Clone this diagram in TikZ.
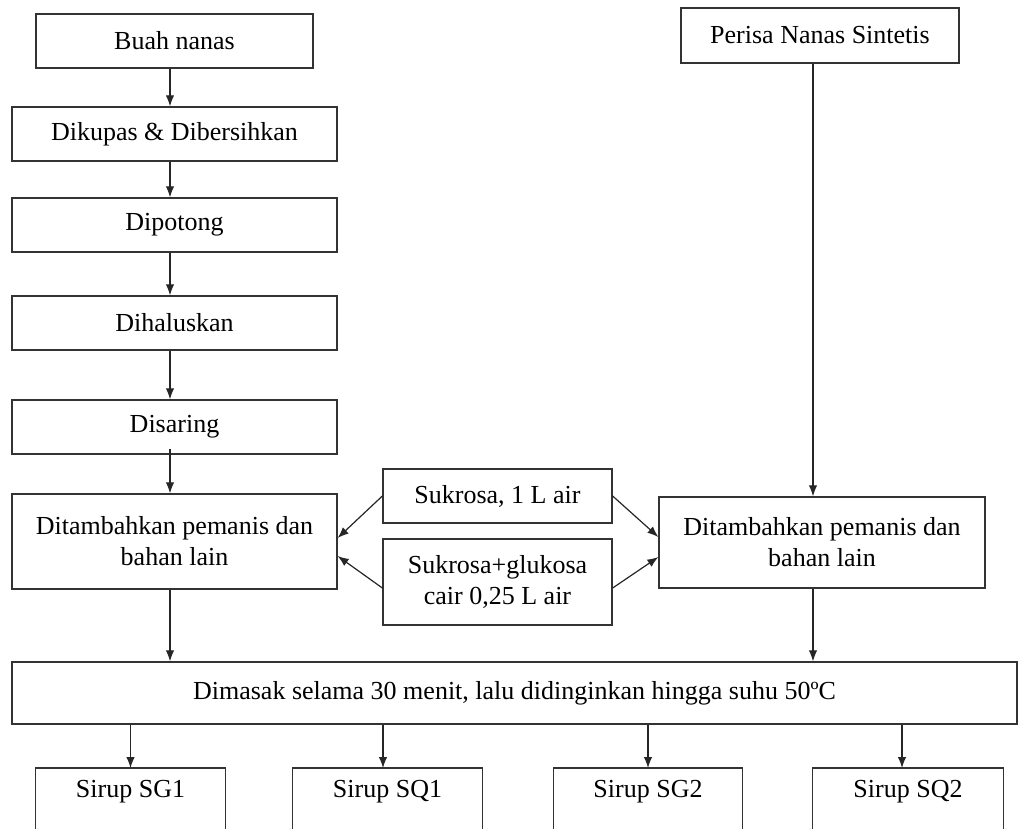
\documentclass[tikz,border=0pt]{standalone}
\usepackage{fontspec}
\setmainfont{Liberation Serif}
\usetikzlibrary{arrows.meta,calc}
\begin{document}
\begin{tikzpicture}[x=1pt,y=-1pt,
  every node/.style={font=\fontsize{26}{31}\selectfont},
  box/.style={draw=black!80, line width=1.3pt, inner sep=0pt, align=center},
  openbox/.style={inner sep=0pt, align=center},
  arr/.style={draw=black!85, line width=1.2pt, -{Latex[length=11pt,width=8.5pt]}},
  side/.style={draw=black!80, line width=1.3pt}]
\useasboundingbox[fill=white] (0,0) rectangle (1019,828);
% left column
\node[box, minimum width=277, minimum height=54] (buah) at (174.5,41) {Buah nanas};
\node[box, minimum width=325, minimum height=54] (dikupas) at (174.5,134) {Dikupas \& Dibersihkan};
\node[box, minimum width=325, minimum height=54] (dipotong) at (174.5,225) {Dipotong};
\node[box, minimum width=325, minimum height=54] (dihalus) at (174.5,323) {Dihaluskan};
\node[box, minimum width=325, minimum height=54] (disaring) at (174.5,427) {Disaring};
\node[box, minimum width=325, minimum height=95] (tambahL) at (174.5,541.5) {Ditambahkan pemanis dan\\bahan lain};
% right column
\node[box, minimum width=278, minimum height=55] (perisa) at (820,35.5) {Perisa Nanas Sintetis};
\node[box, minimum width=326, minimum height=91] (tambahR) at (822,542.5) {Ditambahkan pemanis dan\\bahan lain};
% middle
\node[box, minimum width=229, minimum height=54] (suk1) at (497.5,496) {Sukrosa, 1 L air};
\node[box, minimum width=229, minimum height=86] (suk2) at (497.5,582) {Sukrosa+glukosa\\cair 0,25 L air};
% cooking
\node[box, minimum width=1005, minimum height=62] (masak) at (514.5,693) {Dimasak selama 30 menit, lalu didinginkan hingga suhu 50ºC};
% products (bottom edges cut off)
\node[openbox, minimum width=189, minimum height=46, anchor=north] (sg1) at (130.5,768) {Sirup SG1};
\node[openbox, minimum width=189, minimum height=46, anchor=north] (sq1) at (387.5,768) {Sirup SQ1};
\node[openbox, minimum width=188, minimum height=46, anchor=north] (sg2) at (648,768) {Sirup SG2};
\node[openbox, minimum width=190, minimum height=46, anchor=north] (sq2) at (908,768) {Sirup SQ2};
\foreach \n in {sg1,sq1,sg2,sq2}{
  \draw[side] ($(\n.north west)+(0,70)$) -- (\n.north west) -- (\n.north east) -- ($(\n.north east)+(0,70)$);
}
% column coordinates
\coordinate (colL) at (170,0);
\coordinate (colR) at (813,0);
% connectors left column
\draw[arr] (buah.south -| colL) -- (dikupas.north -| colL);
\draw[arr] (dikupas.south -| colL) -- (dipotong.north -| colL);
\draw[arr] (dipotong.south -| colL) -- (dihalus.north -| colL);
\draw[arr] (dihalus.south -| colL) -- (disaring.north -| colL);
\draw[arr] ($(disaring.south -| colL)+(0,-6)$) -- (tambahL.north -| colL);
\draw[arr] (tambahL.south -| colL) -- (masak.north -| colL);
% right column
\draw[arr] (perisa.south -| colR) -- (tambahR.north -| colR);
\draw[arr] (tambahR.south -| colR) -- (masak.north -| colR);
% sweeteners
\draw[arr] (suk1.west) -- ($(tambahL.east)+(0,-3.5)$);
\draw[arr] ($(suk2.west)+(0,6)$) -- ($(tambahL.east)+(0,14.5)$);
\draw[arr] (suk1.east) -- ($(tambahR.west)+(0,-5.5)$);
\draw[arr] ($(suk2.east)+(0,6)$) -- ($(tambahR.west)+(0,14.5)$);
% to products
\draw[arr] (masak.south -| sg1.north) -- (sg1.north);
\draw[arr] (masak.south -| 383,0) -- (sq1.north -| 383,0);
\draw[arr] (masak.south -| sg2.north) -- (sg2.north);
\draw[arr] (masak.south -| 902,0) -- (sq2.north -| 902,0);
\end{tikzpicture}
\end{document}
